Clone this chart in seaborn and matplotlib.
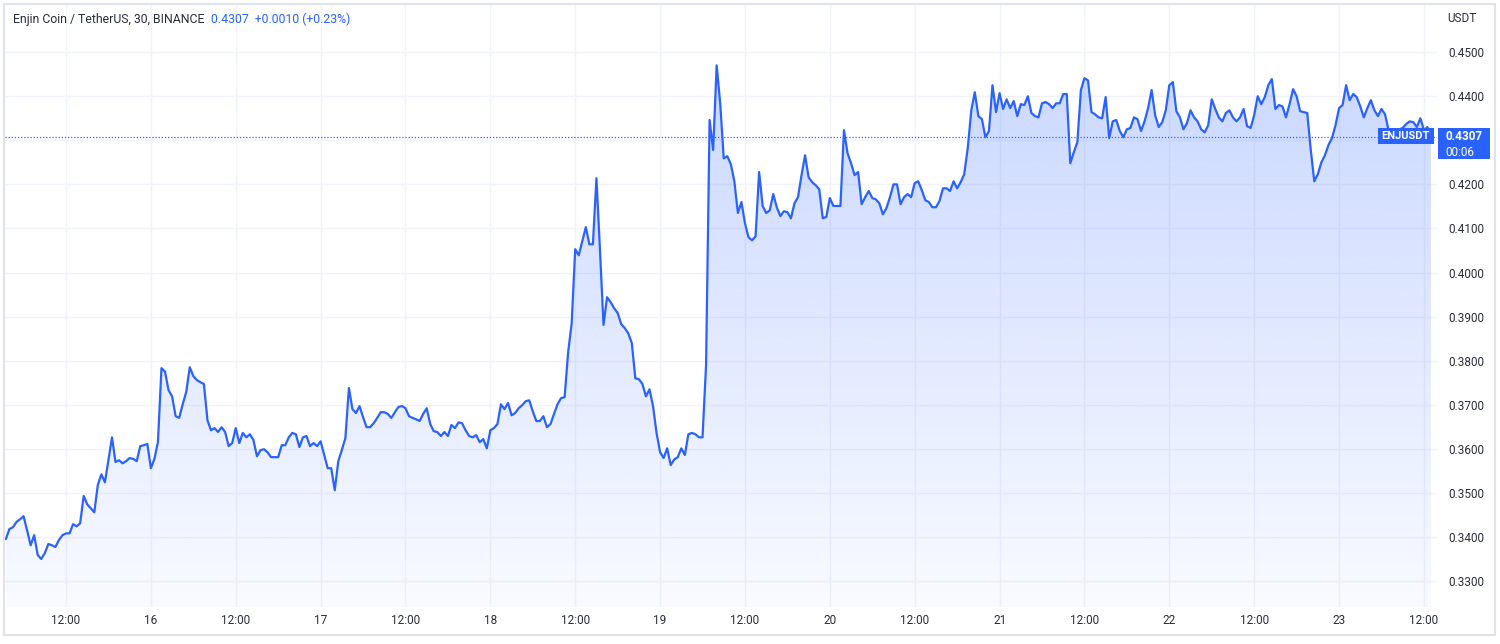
import numpy as np
import pandas as pd
import seaborn as sns
import matplotlib.pyplot as plt
import matplotlib.dates as mdates
from matplotlib.patches import Rectangle
from matplotlib.ticker import FuncFormatter

# ENJUSDT 30-minute closes, one list per calendar day (15th starts at 03:30)
day15 = [0.3395, 0.3418, 0.3422, 0.3434, 0.3440, 0.3447, 0.3415, 0.3381, 0.3404, 0.3359,
         0.3350, 0.3363, 0.3384, 0.3381, 0.3377, 0.3393, 0.3404, 0.3408, 0.3408, 0.3429,
         0.3424, 0.3431, 0.3493, 0.3474, 0.3465, 0.3456, 0.3518, 0.3542, 0.3524, 0.3574,
         0.3626, 0.3570, 0.3574, 0.3567, 0.3572, 0.3579, 0.3577, 0.3572, 0.3606, 0.3608,
         0.3611]
day16 = [0.3556, 0.3577, 0.3615, 0.3783, 0.3775, 0.3733, 0.3719, 0.3674, 0.3670, 0.3701,
         0.3729, 0.3785, 0.3765, 0.3756, 0.3751, 0.3747, 0.3665, 0.3642, 0.3647, 0.3638,
         0.3649, 0.3638, 0.3606, 0.3613, 0.3647, 0.3613, 0.3636, 0.3626, 0.3633, 0.3620,
         0.3583, 0.3597, 0.3599, 0.3592, 0.3581, 0.3581, 0.3581, 0.3608, 0.3608, 0.3626,
         0.3636, 0.3633, 0.3604, 0.3626, 0.3629, 0.3606, 0.3613, 0.3606]
day17 = [0.3617, 0.3586, 0.3556, 0.3556, 0.3506, 0.3572, 0.3597, 0.3624, 0.3738, 0.3690,
         0.3681, 0.3697, 0.3672, 0.3649, 0.3649, 0.3658, 0.3670, 0.3683, 0.3683, 0.3679,
         0.3670, 0.3683, 0.3695, 0.3697, 0.3692, 0.3674, 0.3670, 0.3667, 0.3663, 0.3679,
         0.3692, 0.3656, 0.3640, 0.3638, 0.3629, 0.3638, 0.3629, 0.3654, 0.3647, 0.3660,
         0.3658, 0.3642, 0.3629, 0.3626, 0.3631, 0.3615, 0.3622, 0.3601]
day18 = [0.3642, 0.3647, 0.3656, 0.3701, 0.3690, 0.3704, 0.3676, 0.3681, 0.3692, 0.3699,
         0.3708, 0.3710, 0.3685, 0.3663, 0.3663, 0.3674, 0.3649, 0.3656, 0.3679, 0.3701,
         0.3715, 0.3717, 0.3819, 0.3885, 0.4053, 0.4039, 0.4071, 0.4103, 0.4064, 0.4064,
         0.4214, 0.4051, 0.3881, 0.3944, 0.3933, 0.3919, 0.3908, 0.3883, 0.3874, 0.3862,
         0.3840, 0.3760, 0.3758, 0.3747, 0.3719, 0.3735, 0.3697, 0.3636]
day19 = [0.3592, 0.3579, 0.3601, 0.3563, 0.3576, 0.3581, 0.3601, 0.3586, 0.3633, 0.3636,
         0.3633, 0.3626, 0.3626, 0.3790, 0.4346, 0.4278, 0.4470, 0.4384, 0.4259, 0.4264,
         0.4246, 0.4207, 0.4135, 0.4160, 0.4112, 0.4080, 0.4073, 0.4082, 0.4228, 0.4151,
         0.4135, 0.4141, 0.4178, 0.4148, 0.4128, 0.4139, 0.4137, 0.4123, 0.4157, 0.4171,
         0.4221, 0.4266, 0.4216, 0.4205, 0.4198, 0.4189, 0.4123, 0.4126]
day20 = [0.4169, 0.4151, 0.4151, 0.4151, 0.4323, 0.4271, 0.4248, 0.4221, 0.4228, 0.4155,
         0.4171, 0.4185, 0.4169, 0.4166, 0.4157, 0.4132, 0.4146, 0.4171, 0.4200, 0.4200,
         0.4155, 0.4171, 0.4178, 0.4171, 0.4203, 0.4207, 0.4187, 0.4164, 0.4160, 0.4148,
         0.4148, 0.4162, 0.4191, 0.4191, 0.4185, 0.4207, 0.4191, 0.4205, 0.4223, 0.4282,
         0.4368, 0.4409, 0.4355, 0.4348, 0.4307, 0.4321, 0.4425, 0.4364]
day21 = [0.4407, 0.4371, 0.4393, 0.4373, 0.4389, 0.4355, 0.4382, 0.4380, 0.4400, 0.4362,
         0.4355, 0.4352, 0.4384, 0.4387, 0.4382, 0.4373, 0.4384, 0.4384, 0.4405, 0.4405,
         0.4248, 0.4273, 0.4296, 0.4414, 0.4441, 0.4436, 0.4364, 0.4359, 0.4352, 0.4350,
         0.4398, 0.4305, 0.4343, 0.4346, 0.4321, 0.4307, 0.4325, 0.4328, 0.4352, 0.4348,
         0.4321, 0.4343, 0.4373, 0.4414, 0.4357, 0.4330, 0.4341, 0.4368]
day22 = [0.4425, 0.4432, 0.4366, 0.4352, 0.4325, 0.4339, 0.4368, 0.4352, 0.4343, 0.4325,
         0.4318, 0.4334, 0.4393, 0.4371, 0.4352, 0.4343, 0.4362, 0.4368, 0.4352, 0.4343,
         0.4352, 0.4371, 0.4332, 0.4328, 0.4357, 0.4400, 0.4382, 0.4398, 0.4425, 0.4439,
         0.4371, 0.4380, 0.4377, 0.4352, 0.4382, 0.4416, 0.4400, 0.4366, 0.4364, 0.4362,
         0.4278, 0.4207, 0.4223, 0.4250, 0.4266, 0.4289, 0.4305, 0.4334]
day23 = [0.4373, 0.4380, 0.4425, 0.4391, 0.4405, 0.4398, 0.4377, 0.4352, 0.4373, 0.4391,
         0.4368, 0.4355, 0.4371, 0.4359, 0.4323, 0.4325, 0.4325, 0.4325, 0.4328, 0.4337,
         0.4343, 0.4341, 0.4330, 0.4350, 0.4323, 0.4330, 0.4307]

prices = day15 + day16 + day17 + day18 + day19 + day20 + day21 + day22 + day23
times = pd.date_range("2024-01-15 03:30", periods=len(prices), freq="30min")
df = pd.DataFrame({"time": times, "close": prices})

title_text = "Enjin Coin / TetherUS, 30, BINANCE"
quote_text = "0.4307  +0.0010 (+0.23%)"
last_price = 0.4307
symbol = "ENJUSDT"
countdown = "00:06"
price_ticks = [0.33, 0.34, 0.35, 0.36, 0.37, 0.38, 0.39, 0.40, 0.41, 0.42, 0.43, 0.44, 0.45]
time_ticks = pd.date_range("2024-01-15 12:00", "2024-01-23 12:00", freq="12h")

BLUE = "#2962ff"
TEXT = "#2a2e39"
GRID = "#f0f3fa"
W, H = 1500, 644

sns.set_theme(style="white")
plt.rcParams["font.family"] = ["Roboto", "DejaVu Sans"]

fig = plt.figure(figsize=(W / 100, H / 100), dpi=100)
ax = fig.add_axes([5 / W, 37 / H, 1432 / W, 602 / H])

t0 = mdates.date2num(times[0])
x0, x1 = t0 - 0.25 / 48, t0 + 404.7 / 48
y0, y1 = 0.3241, 0.4607

# gradient area under the line
poly = ax.fill_between(df["time"], df["close"], y0, color="none", lw=0)
grad = np.zeros((256, 1, 4))
grad[:, 0, 0] = 41 / 255
grad[:, 0, 1] = 98 / 255
grad[:, 0, 2] = 1.0
grad[:, 0, 3] = np.linspace(0.27, 0.03, 256)
img = ax.imshow(grad, extent=[x0, x1, y0, y1], origin="upper", aspect="auto", zorder=1)
img.set_clip_path(poly.get_paths()[0], transform=ax.transData)

sns.lineplot(data=df, x="time", y="close", ax=ax, color=BLUE, linewidth=1.6, zorder=3)

ax.axhline(last_price, color=BLUE, lw=0.9, ls=(0, (1, 1.5)), zorder=2)

ax.set_xticks(time_ticks)
ax.set_yticks(price_ticks)
ax.set_xlim(x0, x1)
ax.set_ylim(y0, y1)
ax.grid(True, color=GRID, lw=1)
ax.set_axisbelow(True)


def fmt_time(v, pos):
    d = mdates.num2date(v)
    return str(d.day) if d.hour == 0 else "12:00"


def fmt_price(v, pos):
    # the scale label next to the last price is covered by the price tag
    if abs(v - round(last_price, 2)) < 1e-9:
        return ""
    return f"{v:.4f}"


ax.xaxis.set_major_formatter(FuncFormatter(fmt_time))
ax.yaxis.set_major_formatter(FuncFormatter(fmt_price))
ax.yaxis.tick_right()
ax.tick_params(axis="x", length=0, pad=5, labelsize=8.5, labelcolor=TEXT)
ax.tick_params(axis="y", length=0, pad=8, labelsize=8.5, labelcolor=TEXT)
for lab in ax.get_yticklabels():
    lab.set_horizontalalignment("left")
ax.set_xlabel("")
ax.set_ylabel("")
for s in ax.spines.values():
    s.set_visible(False)

# header
fig.text(13 / W, 1 - 19 / H, title_text, fontsize=8.8, color=TEXT, va="center")
fig.text(211 / W, 1 - 19 / H, quote_text, fontsize=8.8, color=BLUE, va="center")
fig.text(1447 / W, 1 - 18 / H, "USDT", fontsize=8.5, color=TEXT, va="center")

# last price labels (symbol tag inside the pane, price + countdown on the scale)
fig.add_artist(Rectangle((1378 / W, 1 - 144 / H), 56 / W, 16 / H,
                         transform=fig.transFigure, fc=BLUE, ec="none", zorder=5))
fig.text(1406 / W, 1 - 136.5 / H, symbol, fontsize=8, color="white", weight="bold",
         ha="center", va="center", zorder=6)
fig.add_artist(Rectangle((1438 / W, 1 - 159 / H), 52 / W, 31 / H,
                         transform=fig.transFigure, fc=BLUE, ec="none", zorder=5))
fig.text(1445 / W, 1 - 136.5 / H, f"{last_price:.4f}", fontsize=8.5, color="white",
         weight="bold", ha="left", va="center", zorder=6)
fig.text(1445 / W, 1 - 152 / H, countdown, fontsize=8.5, color="white",
         ha="left", va="center", zorder=6)

fig.add_artist(Rectangle((4 / W, 9 / H), 1491 / W, 631 / H, transform=fig.transFigure,
                         fill=False, ec="#e0e3eb", lw=1.5))

fig.savefig("out.png", dpi=100)
